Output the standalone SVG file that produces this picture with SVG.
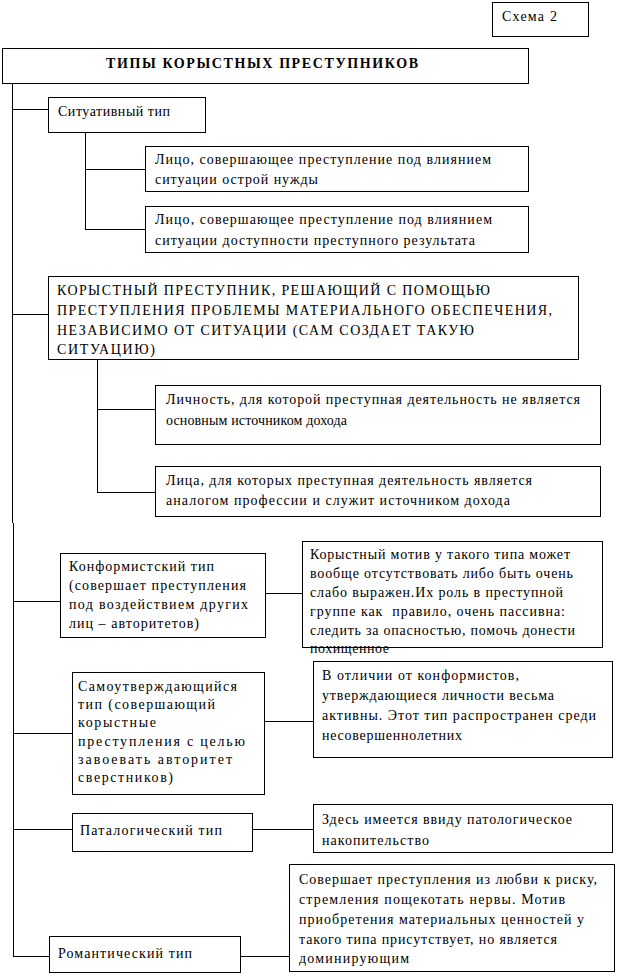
<svg xmlns="http://www.w3.org/2000/svg" width="626" height="974" viewBox="0 0 626 974">
<style>
rect{fill:#fff;stroke:#000;stroke-width:1}
line{stroke:#000;stroke-width:1}
text{font-family:"Times New Roman","Liberation Serif","DejaVu Serif",serif;font-size:14px;fill:#000}
.b{font-weight:bold}
</style>
<g id="connectors">
<line x1="12.5" y1="83" x2="12.5" y2="523"/>
<line x1="13.5" y1="523" x2="13.5" y2="957"/>
<line x1="12" y1="109.5" x2="48" y2="109.5"/>
<line x1="85.5" y1="132" x2="85.5" y2="229.5"/>
<line x1="85" y1="169.5" x2="145" y2="169.5"/>
<line x1="85" y1="229.5" x2="145" y2="229.5"/>
<line x1="12" y1="314.5" x2="48" y2="314.5"/>
<line x1="97.5" y1="359" x2="97.5" y2="492.5"/>
<line x1="97" y1="409.5" x2="155" y2="409.5"/>
<line x1="97" y1="492.5" x2="155" y2="492.5"/>
<line x1="13" y1="601.5" x2="60" y2="601.5"/>
<line x1="265" y1="593.5" x2="302" y2="593.5"/>
<line x1="13" y1="733.5" x2="72" y2="733.5"/>
<line x1="264" y1="721.5" x2="313" y2="721.5"/>
<line x1="13" y1="829.5" x2="72" y2="829.5"/>
<line x1="252" y1="829.5" x2="313" y2="829.5"/>
<line x1="13" y1="956.5" x2="49" y2="956.5"/>
<line x1="240" y1="956.5" x2="289" y2="956.5"/>
</g>
<g id="schema">
<rect x="492.5" y="2.5" width="96" height="34"/>
<text x="502" y="21" textLength="55">Схема 2</text>
</g>
<g id="title">
<rect x="2.5" y="48.5" width="526" height="35"/>
<text class="b" x="106" y="68" textLength="312">ТИПЫ КОРЫСТНЫХ ПРЕСТУПНИКОВ</text>
</g>
<g id="situative">
<rect x="48.5" y="97.5" width="157" height="35"/>
<text x="58" y="116" textLength="112">Ситуативный тип</text>
</g>
<g id="sit1">
<rect x="145.5" y="146.5" width="383" height="45"/>
<text x="155" y="164" textLength="336">Лицо, совершающее преступление под влиянием</text>
<text x="155" y="184" textLength="163">ситуации острой нужды</text>
</g>
<g id="sit2">
<rect x="145.5" y="206.5" width="383" height="46"/>
<text x="155" y="224" textLength="337">Лицо, совершающее преступление под влиянием</text>
<text x="155" y="245" textLength="320">ситуации доступности преступного результата</text>
</g>
<g id="selfmade">
<rect x="48.5" y="276.5" width="530" height="83"/>
<text x="57" y="295" textLength="433">КОРЫСТНЫЙ ПРЕСТУПНИК, РЕШАЮЩИЙ С ПОМОЩЬЮ</text>
<text x="57" y="315" textLength="495">ПРЕСТУПЛЕНИЯ ПРОБЛЕМЫ МАТЕРИАЛЬНОГО ОБЕСПЕЧЕНИЯ,</text>
<text x="57" y="335" textLength="417">НЕЗАВИСИМО ОТ СИТУАЦИИ (САМ СОЗДАЕТ ТАКУЮ</text>
<text x="57" y="354" textLength="98">СИТУАЦИЮ)</text>
</g>
<g id="self1">
<rect x="155.5" y="385.5" width="445" height="59"/>
<text x="166" y="404" textLength="414">Личность, для которой преступная деятельность не является</text>
<text x="166" y="425" textLength="181">основным источником дохода</text>
</g>
<g id="self2">
<rect x="155.5" y="466.5" width="445" height="50"/>
<text x="166" y="485" textLength="366">Лица, для которых преступная деятельность является</text>
<text x="166" y="505" textLength="344">аналогом профессии и служит источником дохода</text>
</g>
<g id="conform">
<rect x="60.5" y="553.5" width="205" height="84"/>
<text x="69" y="571" textLength="145">Конформистский тип</text>
<text x="69" y="590" textLength="177">(совершает преступления</text>
<text x="69" y="609" textLength="179">под воздействием других</text>
<text x="69" y="628" textLength="130">лиц – авторитетов)</text>
</g>
<g id="conform-note">
<rect x="302.5" y="541.5" width="300" height="106"/>
<text x="310" y="559" textLength="260">Корыстный мотив у такого типа может</text>
<text x="310" y="578" textLength="263">вообще отсутствовать либо быть очень</text>
<text x="310" y="597" textLength="253">слабо выражен.Их роль в преступной</text>
<text x="310" y="616" textLength="255" xml:space="preserve">группе как  правило, очень пассивна:</text>
<text x="310" y="635" textLength="265">следить за опасностью, помочь донести</text>
<text x="310" y="653" textLength="79">похищенное</text>
</g>
<g id="selfassert">
<rect x="72.5" y="672.5" width="192" height="122"/>
<text x="78" y="691" textLength="159">Самоутверждающийся</text>
<text x="78" y="709" textLength="137">тип (совершающий</text>
<text x="78" y="727" textLength="78">корыстные</text>
<text x="78" y="746" textLength="167">преступления с целью</text>
<text x="78" y="764" textLength="154">завоевать авторитет</text>
<text x="78" y="782" textLength="95">сверстников)</text>
</g>
<g id="selfassert-note">
<rect x="313.5" y="661.5" width="299" height="96"/>
<text x="322" y="680" textLength="197">В отличии от конформистов,</text>
<text x="322" y="700" textLength="232">утверждающиеся личности весьма</text>
<text x="322" y="720" textLength="274">активны. Этот тип распространен среди</text>
<text x="322" y="740" textLength="140">несовершеннолетних</text>
</g>
<g id="patho">
<rect x="72.5" y="813.5" width="180" height="38"/>
<text x="80" y="835" textLength="142">Паталогический тип</text>
</g>
<g id="patho-note">
<rect x="313.5" y="804.5" width="299" height="48"/>
<text x="322" y="824" textLength="250">Здесь имеется ввиду патологическое</text>
<text x="322" y="845" textLength="107">накопительство</text>
</g>
<g id="romantic">
<rect x="49.5" y="936.5" width="191" height="36"/>
<text x="58" y="958" textLength="134">Романтический тип</text>
</g>
<g id="romantic-note">
<rect x="289.5" y="864.5" width="325" height="107"/>
<text x="299" y="884" textLength="298">Совершает преступления из любви к риску,</text>
<text x="299" y="904" textLength="266">стремления пощекотать нервы. Мотив</text>
<text x="299" y="924" textLength="285">приобретения материальных ценностей у</text>
<text x="299" y="944" textLength="258">такого типа присутствует, но является</text>
<text x="299" y="963" textLength="110">доминирующим</text>
</g>
</svg>
